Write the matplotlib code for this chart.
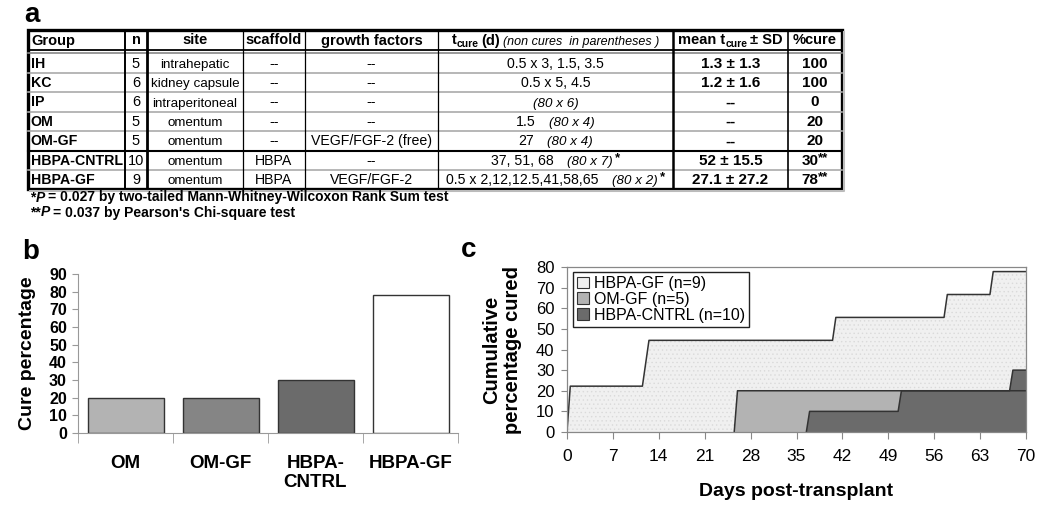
import numpy as np
import matplotlib
matplotlib.use('Agg')
import matplotlib.pyplot as plt
import matplotlib.patches as mpatches

plt.rcParams.update({
    'font.family': ['Liberation Sans', 'DejaVu Sans'],
    'mathtext.fontset': 'custom', 'mathtext.rm': 'Liberation Sans',
    'mathtext.it': 'Liberation Sans:italic', 'mathtext.bf': 'Liberation Sans:bold',
    'hatch.linewidth': 0.5,
})

# ---- panel a: table ----
headers = ['Group', 'n', 'site', 'scaffold', 'growth factors']
groups = ['IH', 'KC', 'IP', 'OM', 'OM-GF', 'HBPA-CNTRL', 'HBPA-GF']
n_mice = ['5', '6', '6', '5', '5', '10', '9']
sites = ['intrahepatic', 'kidney capsule', 'intraperitoneal', 'omentum', 'omentum', 'omentum', 'omentum']
scaffolds = ['--', '--', '--', '--', '--', 'HBPA', 'HBPA']
growth = ['--', '--', '--', '--', 'VEGF/FGF-2 (free)', '--', 'VEGF/FGF-2']
t_cure = ['0.5 x 3, 1.5, 3.5', '0.5 x 5, 4.5', '', '1.5', '27', '37, 51, 68', '0.5 x 2,12,12.5,41,58,65']
non_cures = ['', '', '(80 x 6)', '(80 x 4)', '(80 x 4)', '(80 x 7)', '(80 x 2)']
t_marks = ['', '', '', '', '', '*', '*']
mean_sd = ['1.3 ± 1.3', '1.2 ± 1.6', '--', '--', '--', '52 ± 15.5', '27.1 ± 27.2']
pct_cure = ['100', '100', '0', '20', '20', '30', '78']
pct_marks = ['', '', '', '', '', '**', '**']
footnotes = [('*', '= 0.027 by two-tailed Mann-Whitney-Wilcoxon Rank Sum test'),
             ('**', "= 0.037 by Pearson's Chi-square test")]

# ---- panel b ----
bar_labels = ['OM', 'OM-GF', 'HBPA-\nCNTRL', 'HBPA-GF']
bar_pct = [20, 20, 30, 78]
bar_colors = ['#b3b3b3', '#858585', '#6b6b6b', '#ffffff']

# ---- panel c: day of cure for each cured mouse ----
gf_days, gf_n = [0.5, 0.5, 12, 12.5, 41, 58, 65], 9
omgf_days, omgf_n = [26], 5
cntrl_days, cntrl_n = [37, 51, 68], 10
days = np.arange(0, 70.5, 0.5)


def cum_pct(cured, n):
    return np.array([100.0 * sum(d <= t for d in cured) / n for t in days])


fig = plt.figure(figsize=(10.5, 5.07), dpi=100)
tab = fig.add_axes([0, 0, 1, 1])
tab.set_xlim(0, 1050); tab.set_ylim(507, 0); tab.axis('off')
renderer = fig.canvas.get_renderer()


def runs(x, y, parts, ha='center'):
    """text pieces on one baseline; a number in parts is a gap in px"""
    items, total = [], 0
    for p in parts:
        if isinstance(p, (int, float)):
            items.append((None, p)); total += p
            continue
        kw = dict(p[1]); dy = kw.pop('dy', 0)
        t = tab.text(0, y + dy, p[0], ha='left', va='baseline', **kw)
        w = t.get_window_extent(renderer=renderer).width
        items.append((t, w)); total += w
    x0 = x - total / 2 if ha == 'center' else x
    for t, w in items:
        if t is not None:
            t.set_x(x0)
        x0 += w


HB = dict(fontsize=10.5, fontweight='bold')
BODY = dict(fontsize=10.2)
ITAL = dict(fontsize=9.6, style='italic')

cols = [28, 125, 147, 243, 305, 438, 673, 788, 842]
top, hdr_y, row0, rh = 30, 49.5, 53.5, 19.4
bot = row0 + 7 * rh
ctr = [(a + b) / 2 for a, b in zip(cols[:-1], cols[1:])]

# grid
for k in range(1, 7):
    y = row0 + k * rh
    if k == 5:
        tab.plot([cols[0], cols[-1]], [y, y], color='black', lw=1.5)
    else:
        tab.plot([cols[0], cols[-1]], [y, y], color='#aaaaaa', lw=1.2)
tab.plot([cols[0], cols[-1]], [hdr_y, hdr_y], color='black', lw=1.3)
tab.plot([cols[0], cols[-1]], [hdr_y + 3, hdr_y + 3], color='#888888', lw=1.2)
for x, lw in zip(cols[1:-1], [1.4, 2.0, 0.9, 0.9, 0.9, 1.8, 1.2]):
    tab.plot([x, x], [top, bot], color='black', lw=lw)
tab.plot([cols[-1] + 2, cols[-1] + 2, cols[0] + 2], [top + 2, bot + 2, bot + 2], color='#bbbbbb', lw=1.5)
tab.add_patch(mpatches.Rectangle((cols[0], top), cols[-1] - cols[0], bot - top,
                                 fill=False, edgecolor='black', lw=2.4))

# header
hb_base = 44.5
tab.text(31, hb_base, headers[0], ha='left', va='baseline', **HB)
for c, h in zip(ctr[1:5], headers[1:]):
    tab.text(c, hb_base, h, ha='center', va='baseline', **HB)
runs(ctr[5], hb_base, [('t', HB), ('cure', dict(fontsize=7.5, fontweight='bold', dy=2.5)), 3, ('(d)', HB), 3,
                       ('(non cures  in parentheses )', dict(fontsize=9, style='italic'))])
runs(ctr[6], hb_base, [('mean t', HB), ('cure', dict(fontsize=7.5, fontweight='bold', dy=2.5)), 3, ('± SD', HB)])
tab.text(ctr[7], hb_base, '%cure', ha='center', va='baseline', **HB)

# rows
for i in range(len(groups)):
    yb = row0 + (i + 0.5) * rh + 4.5
    tab.text(30.5, yb, groups[i], ha='left', va='baseline', fontsize=10.2, fontweight='bold')
    tab.text(ctr[1], yb, n_mice[i], ha='center', va='baseline', fontsize=10.5)
    tab.text(ctr[2], yb, sites[i], ha='center', va='baseline', fontsize=9.6)
    tab.text(ctr[3], yb, scaffolds[i], ha='center', va='baseline', **BODY)
    tab.text(ctr[4], yb, growth[i], ha='center', va='baseline', **BODY)
    parts = []
    if t_cure[i]:
        parts.append((t_cure[i], BODY))
    if non_cures[i]:
        if parts:
            parts.append(13)
        parts.append((non_cures[i], ITAL))
    if t_marks[i]:
        parts += [2, (t_marks[i], dict(fontsize=9.5, fontweight='bold', dy=-4))]
    runs(ctr[5], yb, parts)
    tab.text(ctr[6], yb, mean_sd[i], ha='center', va='baseline', fontsize=11, fontweight='bold')
    runs(ctr[7], yb, [(pct_cure[i], dict(fontsize=11, fontweight='bold')),
                      (pct_marks[i], dict(fontsize=9.5, fontweight='bold', dy=-4))])

FB = dict(fontsize=10, fontweight='bold')
for j, (mark, txt) in enumerate(footnotes):
    runs(30, 201.5 + 15 * j, [(mark, FB), ('P', dict(FB, style='italic')), 3, (txt, FB)], ha='left')

for lab, x, y in [('a', 24, 22), ('b', 22, 259), ('c', 461, 257)]:
    tab.text(x, y, lab, fontsize=20, fontweight='bold', va='baseline')

# ---- panel b: bars ----
axb = fig.add_axes([78 / 1050, 74 / 507, 380 / 1050, 159 / 507])
axb.bar(range(len(bar_pct)), bar_pct, width=0.8, color=bar_colors, edgecolor='#333333', linewidth=1.0)
axb.set_xlim(-0.5, len(bar_pct) - 0.5)
axb.set_ylim(0, 90)
axb.set_yticks(range(0, 91, 10))
axb.set_xticks(range(len(bar_pct)))
axb.set_xticklabels(bar_labels, fontsize=13.5, fontweight='bold', linespacing=1.15)
axb.set_xticks(np.arange(-0.5, len(bar_pct)), minor=True)
axb.tick_params(axis='x', which='major', length=0, pad=16)
axb.tick_params(axis='x', which='minor', length=7, color='#999999', direction='out')
axb.tick_params(axis='y', length=4, color='#999999', pad=4, labelsize=11.5)
for lbl in axb.get_yticklabels():
    lbl.set_fontweight('bold')
for s in ['top', 'right']:
    axb.spines[s].set_visible(False)
for s in ['left', 'bottom']:
    axb.spines[s].set_color('#999999'); axb.spines[s].set_linewidth(0.8)
fig.text(28 / 1050, 1 - 353 / 507, 'Cure percentage', rotation=90, ha='center', va='center',
         fontsize=14, fontweight='bold')

# ---- panel c: cumulative cures ----
axc = fig.add_axes([567 / 1050, 75 / 507, 459 / 1050, 165 / 507])
series = [('HBPA-GF (n=9)', cum_pct(gf_days, gf_n), '#f0f0f0'),
          ('OM-GF (n=5)', cum_pct(omgf_days, omgf_n), '#b3b3b3'),
          ('HBPA-CNTRL (n=10)', cum_pct(cntrl_days, cntrl_n), '#6b6b6b')]
handles = []
for k, (name, pct, col) in enumerate(series):
    if k == 0:
        axc.fill_between(days, pct, facecolor=col, edgecolor='#dadada', hatch='....', linewidth=0)
    else:
        axc.fill_between(days, pct, facecolor=col, linewidth=0)
    i0 = max(int(np.argmax(pct > 0)) - 1, 0)
    axc.plot(days[i0:], pct[i0:], color='#333333', lw=1.1)
    handles.append(mpatches.Patch(facecolor=col, edgecolor='#333333', lw=0.8, label=name))
axc.set_xlim(0, 70); axc.set_ylim(0, 80)
axc.set_xticks(range(0, 71, 7)); axc.set_yticks(range(0, 81, 10))
axc.tick_params(axis='x', length=5, color='#888888', pad=7, labelsize=12.5)
axc.tick_params(axis='y', length=4, color='#888888', pad=5, labelsize=12)
for s in axc.spines.values():
    s.set_color('#888888'); s.set_linewidth(0.9)
axc.set_xlabel('Days post-transplant', fontsize=14, fontweight='bold', labelpad=14)
fig.text(502 / 1050, 1 - 349.5 / 507, 'Cumulative\npercentage cured', rotation=90, ha='center', va='center',
         fontsize=14.5, fontweight='bold', linespacing=1.1)
axc.legend(handles=handles, loc='upper left', bbox_to_anchor=(0.013, 0.97), fontsize=11.5,
           frameon=True, fancybox=False, edgecolor='#222222', framealpha=1, borderpad=0.25,
           handlelength=0.75, handleheight=0.75, handletextpad=0.3, labelspacing=0.05, borderaxespad=0)

fig.savefig('out.png', dpi=100, facecolor='white')
